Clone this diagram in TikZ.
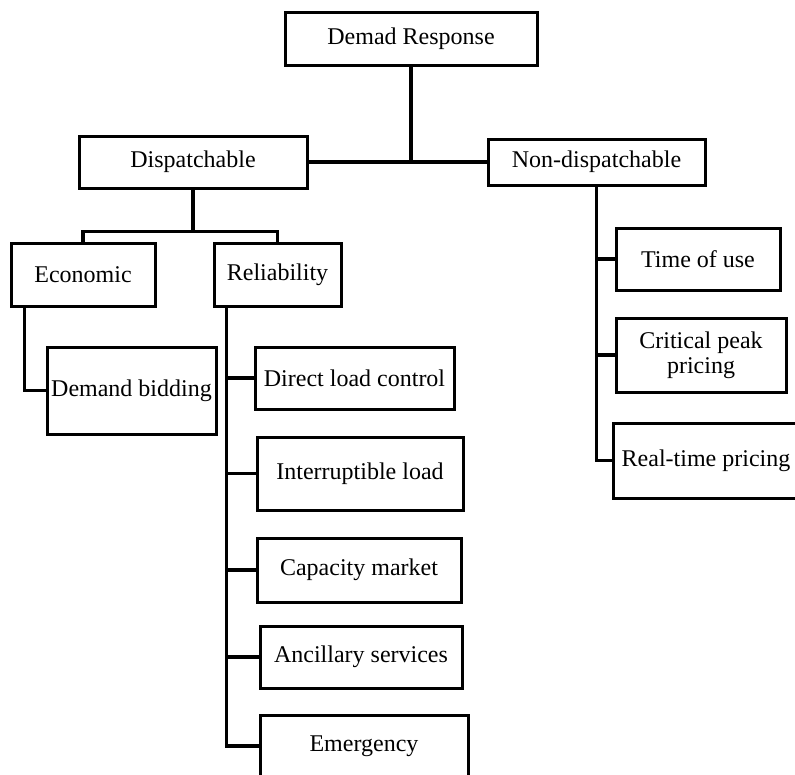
\documentclass[tikz,border=0pt]{standalone}
\usepackage{fontspec}
\setmainfont{Liberation Serif}
\usepackage{tikz}
\usetikzlibrary{calc,positioning}

\begin{document}
\begin{tikzpicture}[x=1pt, y=-1pt,
    box/.style={draw, line width=3pt, inner sep=0pt, align=center, font=\fontsize{24}{25}\selectfont},
    link/.style={line width=3.4pt}]
  \useasboundingbox (0,0) rectangle (795,774);

  % Top level
  \node[box, minimum width=252, minimum height=53] (root) at (411,38.5) {Demad Response};
  \node[box, minimum width=228, minimum height=52] (disp) at (193,162) {Dispatchable};
  \node[box, minimum width=217, minimum height=46] (nondisp) at (596.5,162) {Non-dispatchable};

  % Dispatchable branch
  \node[box, minimum width=144, minimum height=63] (econ) at (83,274.5) {Economic};
  \node[box, minimum width=127, minimum height=63] (rel) at (277.5,274.5) {Reliability};
  \node[box, minimum width=169, minimum height=87] (bid) at (131.5,390.5) {Demand bidding};

  \node[box, minimum width=199, minimum height=62] (direct) at (354.5,378) {Direct load control};
  \node[box, minimum width=206, minimum height=73] (interr) at (360,473.5) {Interruptible load};
  \node[box, minimum width=204, minimum height=64] (cap) at (359,570) {Capacity market};
  \node[box, minimum width=202, minimum height=62] (anc) at (361,657) {Ancillary services};
  \node[box, minimum width=208, minimum height=62] (emer) at (364,746) {Emergency};

  % Non-dispatchable branch
  \node[box, minimum width=164, minimum height=62] (tou) at (698,259) {Time of use};
  \node[box, minimum width=170, minimum height=74] (crit) at (701,355) {Critical peak\\pricing};
  \node[box, minimum width=186, minimum height=75] (rtp) at (706,460.5) {Real-time pricing};

  % Root links
  \draw[link] (root.south) -- (root.south |- disp.east);
  \draw[link] (disp.east) -- (nondisp.west);

  % Dispatchable links
  \draw[link] (disp.south) -- ++(0,42) coordinate (dj);
  \draw[link] (econ.north) |- (dj) -| (rel.north);
  \draw[link] ([xshift=15pt]econ.south west) |- (bid.west);

  \coordinate (rtrunk) at ([xshift=14pt]rel.south west);
  \draw[link] (rtrunk) |- (emer.west);
  \foreach \n in {direct,interr,cap,anc}
    \draw[link] (rtrunk |- \n.west) -- (\n.west);

  % Non-dispatchable links
  \draw[link] (nondisp.south) |- (rtp.west);
  \foreach \n in {tou,crit}
    \draw[link] (nondisp.south |- \n.west) -- (\n.west);
\end{tikzpicture}
\end{document}
